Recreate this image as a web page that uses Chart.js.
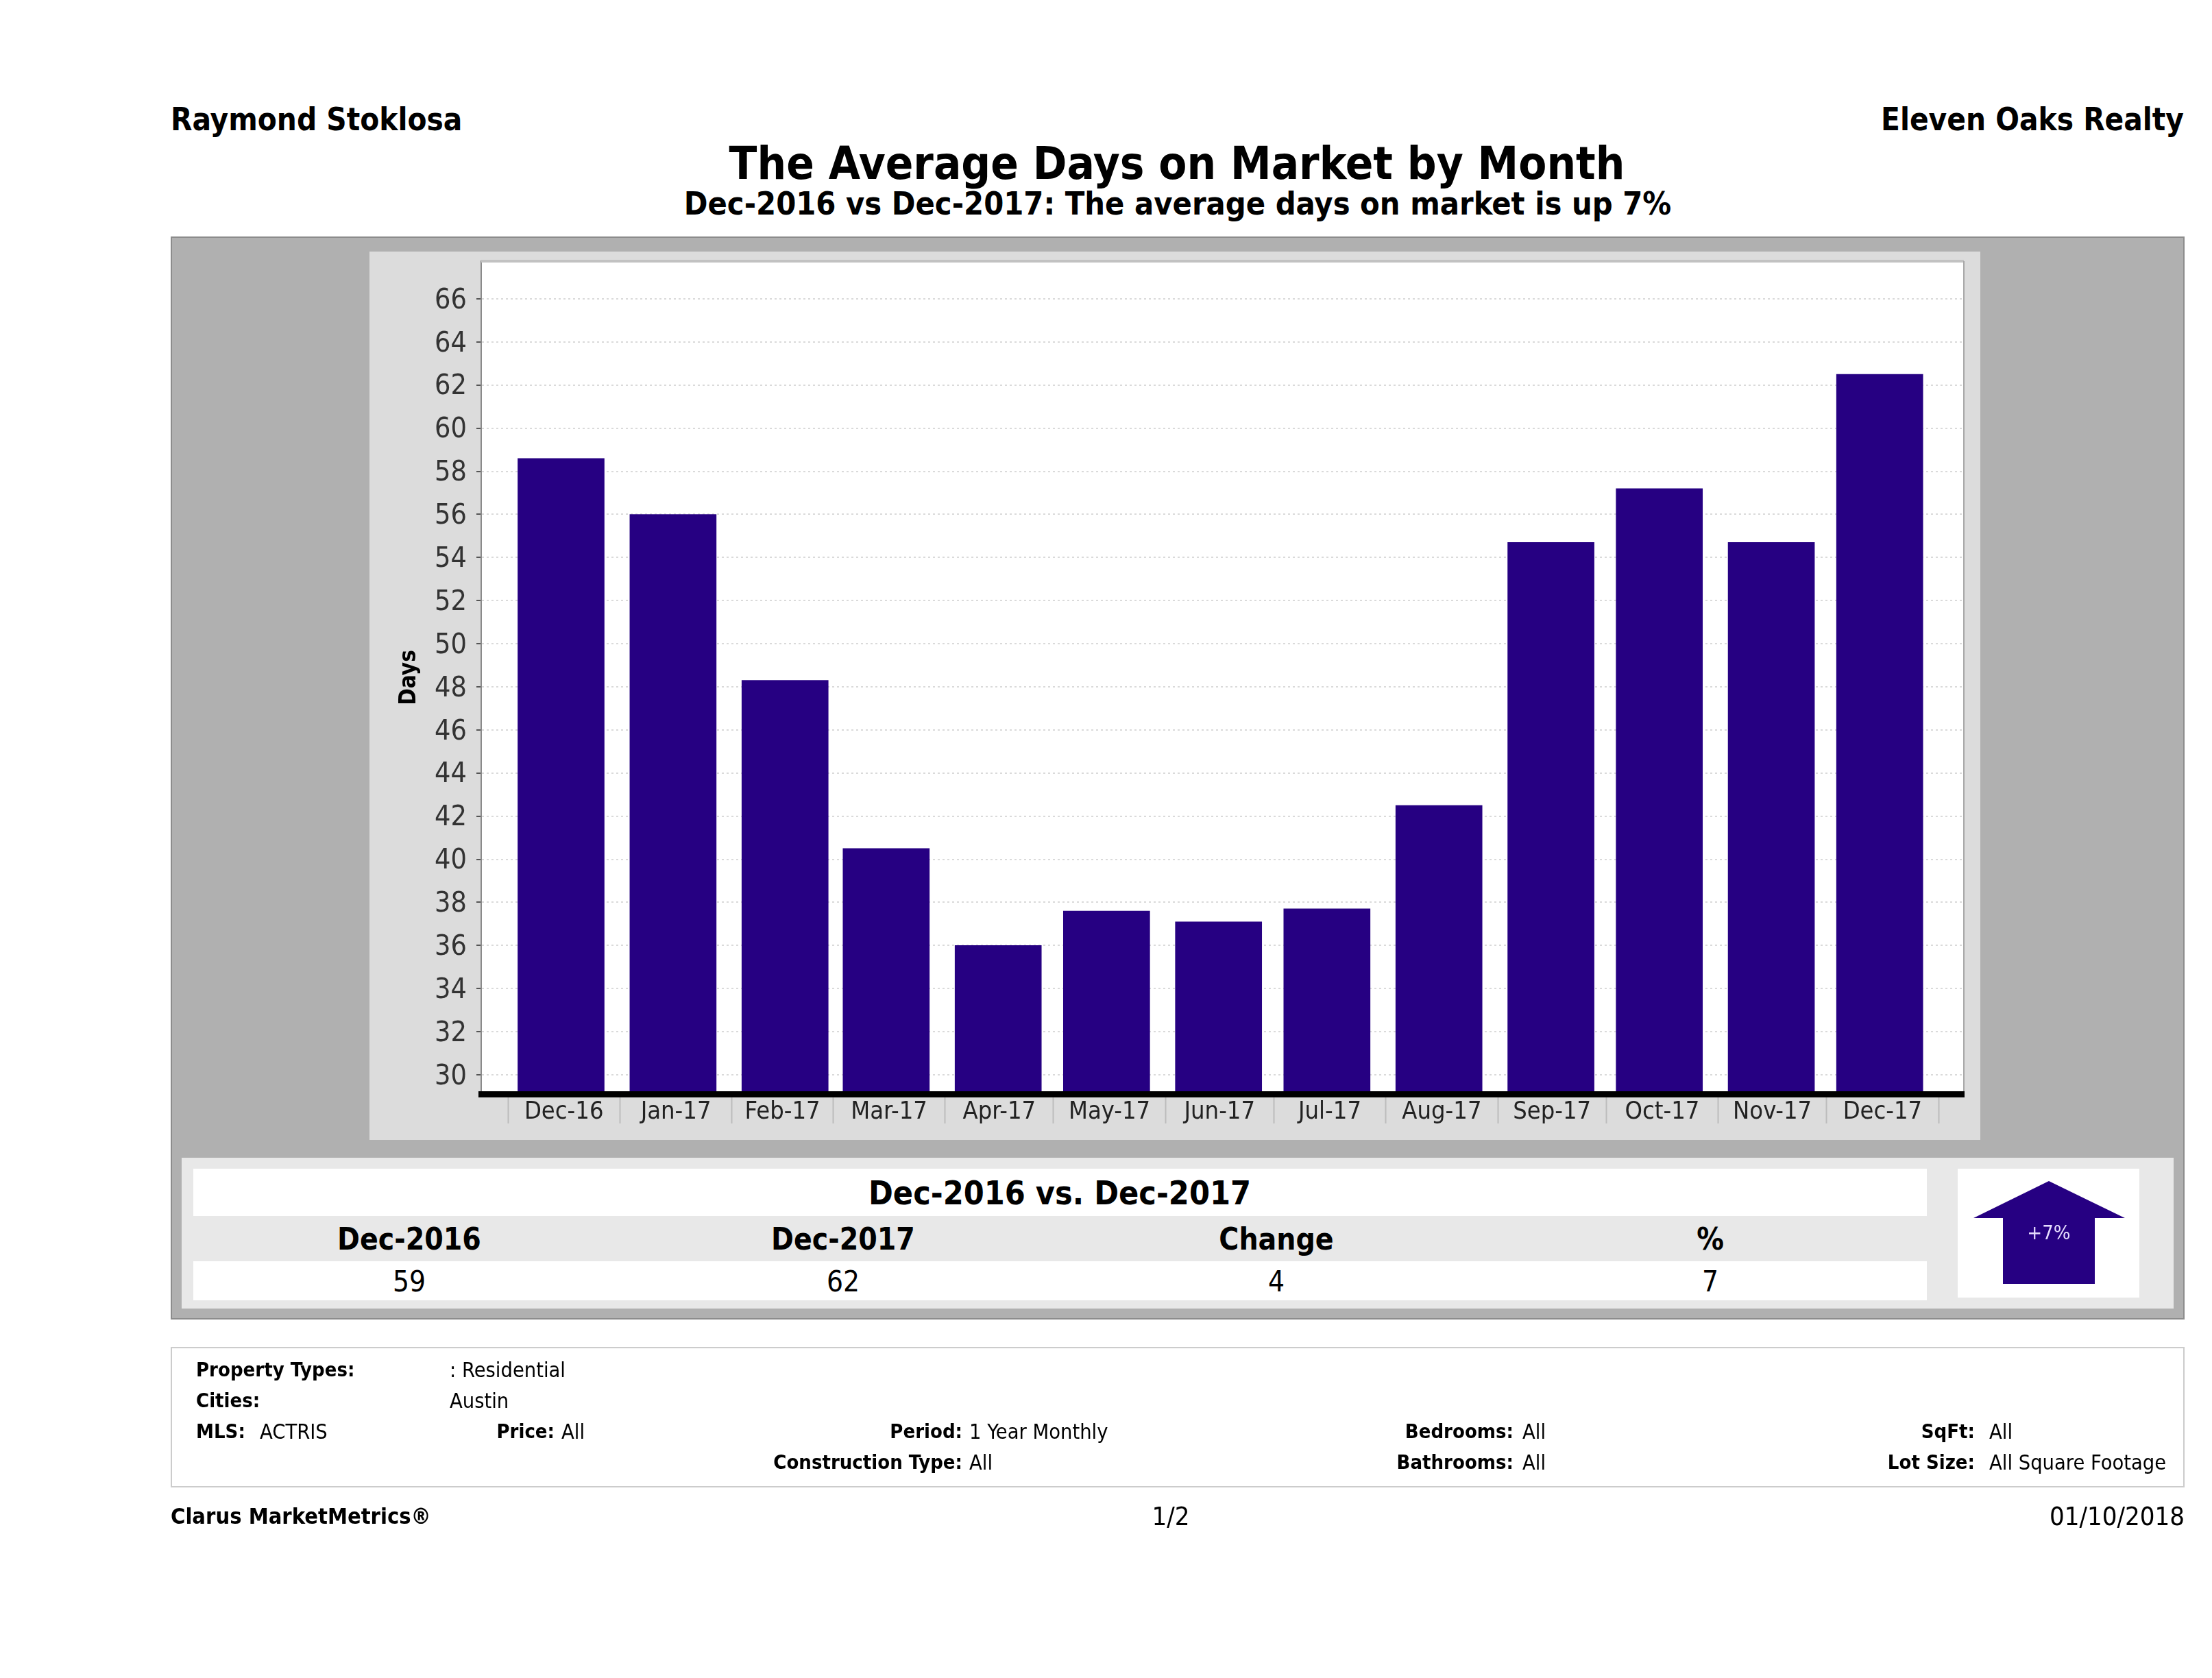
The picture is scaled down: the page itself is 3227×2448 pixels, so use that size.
<!DOCTYPE html>
<html>
<head>
<meta charset="utf-8">
<title>The Average Days on Market by Month</title>
<script src="https://cdn.jsdelivr.net/npm/chart.js@4/dist/chart.umd.js"></script>
<style>
    html, body { margin: 0; padding: 0; background: #fff; }
    body { position: relative; width: 3227px; height: 2448px; overflow: hidden;
           font-family: "DejaVu Sans Condensed", "DejaVu Sans", sans-serif; color: #000; }
    .box { position: absolute; box-sizing: border-box; }
    .t { position: absolute; white-space: nowrap; transform: translateY(-50%); }
    .c { transform: translate(-50%, -50%); }
    .b { font-weight: bold; }
    .f { font-size: 30.5px; }
    .f.b { font-size: 29px; }
    .s { font-size: 42px; }
    .s.b { font-size: 44px; }
    canvas { display: block; }
</style>
</head>
<body>

<div class="t b" style="left:249px;top:174px;font-size:45.4px">Raymond Stoklosa</div>
<div class="t b" style="right:41px;top:174px;font-size:45.4px">Eleven Oaks Realty</div>
<div class="t c b" style="left:1717px;top:238px;font-size:66.6px">The Average Days on Market by Month</div>
<div class="t c b" style="left:1718px;top:297px;font-size:46.5px">Dec-2016 vs Dec-2017: The average days on market is up 7%</div>

<!-- серая панель с графиком -->
<div class="box" style="left:249px;top:345px;width:2938px;height:1580px;background:#b0b0b0;border:2px solid #8c8c8c"></div>
<div class="box" style="left:539px;top:367px;width:2350px;height:1296px;background:#dcdcdc">
    <canvas id="daysChart" width="2350" height="1296"></canvas>
</div>

<!-- таблица сравнения -->
<div class="box" style="left:265px;top:1689px;width:2906px;height:220px;background:#e8e8e8"></div>
<div class="box" style="left:282px;top:1705px;width:2529px;height:69px;background:#fff"></div>
<div class="box" style="left:282px;top:1840px;width:2529px;height:57px;background:#fff"></div>
<div class="box" style="left:2856px;top:1705px;width:265px;height:188px;background:#fff"></div>
<div class="t c b" style="left:1546px;top:1740px;font-size:48px">Dec-2016 vs. Dec-2017</div>
<div id="summary"></div>
<svg class="box" style="left:0;top:0" width="3227" height="2448">
    <polygon points="2989,1723 3100,1777 3056,1777 3056,1873 2922,1873 2922,1777 2879,1777" fill="#260082"/>
    <text x="2989" y="1808" text-anchor="middle" font-size="29" font-family="DejaVu Sans Condensed, DejaVu Sans" fill="#e6dcff">+7%</text>
</svg>

<!-- фильтры -->
<div class="box" style="left:249px;top:1965px;width:2938px;height:205px;border:2px solid #cccccc"></div>
<div class="t f b" style="left:286px;top:1998px">Property Types:</div>
<div class="t f" style="left:656px;top:1998px">: Residential</div>
<div class="t f b" style="left:286px;top:2043px">Cities:</div>
<div class="t f" style="left:656px;top:2043px">Austin</div>
<div class="t f b" style="left:286px;top:2088px">MLS:</div>
<div class="t f" style="left:379px;top:2088px">ACTRIS</div>
<div class="t f b" style="right:2418px;top:2088px">Price:</div>
<div class="t f" style="left:819px;top:2088px">All</div>
<div class="t f b" style="right:1823px;top:2088px">Period:</div>
<div class="t f" style="left:1414px;top:2088px">1 Year Monthly</div>
<div class="t f b" style="right:1823px;top:2133px">Construction Type:</div>
<div class="t f" style="left:1414px;top:2133px">All</div>
<div class="t f b" style="right:1019px;top:2088px">Bedrooms:</div>
<div class="t f" style="left:2221px;top:2088px">All</div>
<div class="t f b" style="right:1019px;top:2133px">Bathrooms:</div>
<div class="t f" style="left:2221px;top:2133px">All</div>
<div class="t f b" style="right:346px;top:2088px">SqFt:</div>
<div class="t f" style="left:2902px;top:2088px">All</div>
<div class="t f b" style="right:346px;top:2133px">Lot Size:</div>
<div class="t f" style="left:2902px;top:2133px">All Square Footage</div>

<!-- подвал -->
<div class="t b" style="left:249px;top:2212px;font-size:32.4px">Clarus MarketMetrics®</div>
<div class="t c" style="left:1708px;top:2212px;font-size:38px">1/2</div>
<div class="t" style="right:40px;top:2212px;font-size:38px">01/10/2018</div>

<script>
// Данные
const categories = ["Dec-16", "Jan-17", "Feb-17", "Mar-17", "Apr-17", "May-17", "Jun-17", "Jul-17", "Aug-17", "Sep-17", "Oct-17", "Nov-17", "Dec-17"];
const monthStarts = ["2016-12-01", "2017-01-01", "2017-02-01", "2017-03-01", "2017-04-01", "2017-05-01", "2017-06-01", "2017-07-01", "2017-08-01", "2017-09-01", "2017-10-01", "2017-11-01", "2017-12-01", "2018-01-01"];
const avgDays = [58.6, 56.0, 48.3, 40.5, 36.0, 37.6, 37.1, 37.7, 42.5, 54.7, 57.2, 54.7, 62.5];
const yTickValues = [30, 32, 34, 36, 38, 40, 42, 44, 46, 48, 50, 52, 54, 56, 58, 60, 62, 64, 66];
const summaryLabels = ["Dec-2016", "Dec-2017", "Change", "%"];
const summaryValues = ["59", "62", "4", "7"];

// Подписи таблицы под графиком
const summaryX = [597, 1230, 1862, 2495];
let summaryHtml = "";
summaryLabels.forEach((label, i) => {
    summaryHtml += `<div class="t c b s" style="left:${summaryX[i]}px;top:1807px">${label}</div>`;
    summaryHtml += `<div class="t c s" style="left:${summaryX[i]}px;top:1869px">${summaryValues[i]}</div>`;
});
document.getElementById("summary").innerHTML = summaryHtml;

// Ось X идёт по дням: февраль у́же остальных месяцев
const origin = Date.parse(monthStarts[0]);
const edgeDays = monthStarts.map(d => (Date.parse(d) - origin) / 86400000);
const midDays = categories.map((c, i) => (edgeDays[i] + edgeDays[i + 1]) / 2);
const barDays = categories.map((c, i) => edgeDays[i] + 14.7);

const plotFrame = {
    id: "plotFrame",
    beforeDraw(chart) {
        const a = chart.chartArea, ctx = chart.ctx;
        ctx.save();
        ctx.fillStyle = "#fff";
        ctx.fillRect(a.left, a.top, a.width, a.height);
        ctx.restore();
    },
    afterDraw(chart) {
        const a = chart.chartArea, ctx = chart.ctx;
        ctx.save();
        ctx.strokeStyle = "#c2c2c2";
        ctx.lineWidth = 4;
        ctx.beginPath();
        ctx.moveTo(a.left, a.top);
        ctx.lineTo(a.right, a.top);
        ctx.stroke();
        ctx.strokeStyle = "#a8a8a8";
        ctx.lineWidth = 2;
        ctx.beginPath();
        ctx.moveTo(a.right, a.top);
        ctx.lineTo(a.right, a.bottom - 4);
        ctx.stroke();
        ctx.restore();
    }
};

new Chart(document.getElementById("daysChart").getContext("2d"), {
    type: "bar",
    data: {
        datasets: [{
            label: "Days",
            data: avgDays.map((v, i) => ({ x: barDays[i], y: v })),
            backgroundColor: "#260082",
            barThickness: 126
        }]
    },
    options: {
        responsive: false,
        animation: false,
        layout: { padding: { top: 14, right: 24 } },
        plugins: { legend: { display: false }, tooltip: { enabled: false } },
        scales: {
            x: {
                type: "linear",
                offset: false,
                min: -7.4,
                max: 403,
                afterFit(axis) { axis.height = 67; },
                afterBuildTicks(axis) {
                    axis.ticks = edgeDays.concat(midDays).sort((a, b) => a - b).map(v => ({ value: v }));
                },
                grid: {
                    offset: false,
                    drawOnChartArea: false,
                    tickLength: 43,
                    tickWidth: 2,
                    tickColor: ctx => (ctx.tick && ctx.tick.label ? "transparent" : "#bcbcbc")
                },
                border: { color: "#000", width: 9, z: 1 },
                ticks: {
                    autoSkip: false,
                    maxRotation: 0,
                    padding: -38,
                    color: "#222",
                    font: { family: "DejaVu Sans Condensed, DejaVu Sans", size: 36 },
                    callback(value) {
                        const i = midDays.indexOf(value);
                        return i >= 0 ? categories[i] : "";
                    }
                }
            },
            y: {
                min: 29.11,
                max: 67.75,
                afterFit(axis) {
                    axis.width = 163;
                    axis.paddingTop = 0;
                    axis.paddingBottom = 0;
                },
                afterBuildTicks(axis) {
                    axis.ticks = yTickValues.map(v => ({ value: v }));
                },
                grid: {
                    color: "#dadada",
                    lineWidth: 2,
                    tickColor: "#555",
                    tickLength: 7,
                    tickWidth: 2
                },
                border: { color: "#8a8a8a", width: 2, dash: [3, 4] },
                ticks: {
                    padding: 14,
                    labelOffset: 3,
                    color: "#333",
                    font: { family: "DejaVu Sans Condensed, DejaVu Sans", size: 41 }
                },
                title: {
                    display: true,
                    text: "Days",
                    color: "#000",
                    padding: { top: 39, bottom: 0 },
                    font: { family: "DejaVu Sans Condensed, DejaVu Sans", size: 33, weight: "bold" }
                }
            }
        }
    },
    plugins: [plotFrame]
});
</script>
</body>
</html>
